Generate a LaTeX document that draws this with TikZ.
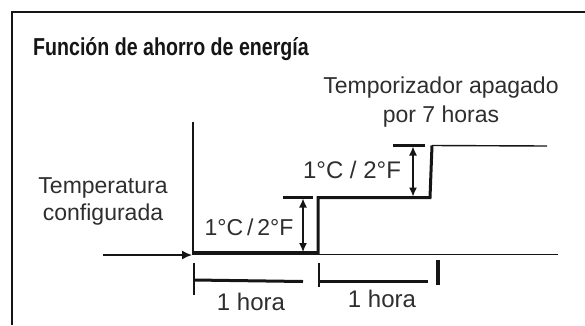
\documentclass[tikz,border=0pt]{standalone}
\usepackage{fontspec}
\usepackage{graphicx}
\setmainfont{Liberation Sans}
\usetikzlibrary{arrows.meta}
\definecolor{txtgray}{HTML}{2E2E2E}
\definecolor{ink}{HTML}{151515}
\begin{document}
\begin{tikzpicture}[x=1pt,y=-1pt,
  lbl/.style={font=\fontsize{23}{29}\selectfont, text=txtgray, inner sep=0pt},
  frameline/.style={draw=ink, line width=2pt},
  thinline/.style={draw=ink, line width=1.4pt},
  thickline/.style={draw=ink, line width=3pt},
  dimarrow/.style={draw=ink, line width=1.3pt, {Latex[length=9pt,width=8pt]}-{Latex[length=9pt,width=8pt]}},
  inarrow/.style={draw=ink, line width=1.5pt, -{Latex[length=10pt,width=9pt]}},
  tick/.style={draw=ink, line width=2pt},
  endtick/.style={draw=ink, line width=4pt}]
\useasboundingbox (0,0) rectangle (585,325);
% frame (partly outside picture)
\coordinate (fBL) at (12,325);
\coordinate (fTL) at (12,12);
\coordinate (fTR) at (585,12);
\draw[frameline] (fBL) -- (fTL) -- (fTR);
% title
\node[lbl, anchor=base west, text=ink] (title) at (33,55)
  {\scalebox{0.8}[1]{\fontsize{24.5}{28}\selectfont\bfseries Función de ahorro de energía}};
% texts
\node[lbl, align=center, anchor=base] (timer) at (441,122) {Temporizador apagado\\por 7 horas};
\node[lbl, align=center, anchor=base, font=\fontsize{23}{27}\selectfont] (settemp) at (103,220) {Temperatura\\configurada};
% axes
\coordinate (axTop) at (193,122);
\coordinate (axBot) at (193,254.5);
\coordinate (baseEnd) at (558,254.5);
\draw[thinline] (axTop) -- (axBot) -- (baseEnd);
% input arrow
\coordinate (arrStart) at (103,255);
\coordinate (arrEnd) at (192,255);
\draw[inarrow] (arrStart) -- (arrEnd);
% temperature step line
\coordinate (s0) at (193,252.5);
\coordinate (s1) at (318,252.5);
\coordinate (s2) at (318,197.5);
\coordinate (s3) at (430,197.5);
\coordinate (s4) at (432,145.5);
\coordinate (s5) at (547,146);
\draw[thickline, line join=miter] (s0) -- (s1) -- (s2) -- (s3) -- (s4);
\draw[thinline] (s4) -- (s5);
% dimension 1
\coordinate (b1a) at (283,197);
\coordinate (b1b) at (313,197);
\draw[thickline] (b1a) -- (b1b);
\coordinate (d1t) at (303,198.5);
\coordinate (d1b) at (303,252);
\draw[dimarrow] (d1t) -- (d1b);
\node[lbl, anchor=center] (lab1) at (249,227) {1°C\,/\,2°F};
% dimension 2
\coordinate (b2a) at (393,145);
\coordinate (b2b) at (425,145);
\draw[thickline] (b2a) -- (b2b);
\coordinate (d2t) at (413,146.5);
\coordinate (d2b) at (413,196.5);
\draw[dimarrow] (d2t) -- (d2b);
\node[lbl, anchor=center, font=\fontsize{24}{29}\selectfont] (lab2) at (352,170) {1°C / 2°F};
% time bars
\coordinate (t1a) at (194,263);
\coordinate (t1b) at (194,295);
\draw[tick] (t1a) -- (t1b);
\coordinate (h1a) at (194,280);
\coordinate (h1b) at (303,281.5);
\draw[thickline] (h1a) -- (h1b);
\node[lbl, anchor=base, font=\fontsize{24}{29}\selectfont] (hora1) at (251,310) {1 hora};
\coordinate (t2a) at (319,263);
\coordinate (t2b) at (319,287);
\draw[tick] (t2a) -- (t2b);
\coordinate (h2a) at (319,281);
\coordinate (h2b) at (428,281);
\draw[thickline] (h2a) -- (h2b);
\coordinate (e2a) at (438,260);
\coordinate (e2b) at (438,285);
\draw[endtick] (e2a) -- (e2b);
\node[lbl, anchor=base, font=\fontsize{24}{29}\selectfont] (hora2) at (382,307) {1 hora};
\end{tikzpicture}
\end{document}
